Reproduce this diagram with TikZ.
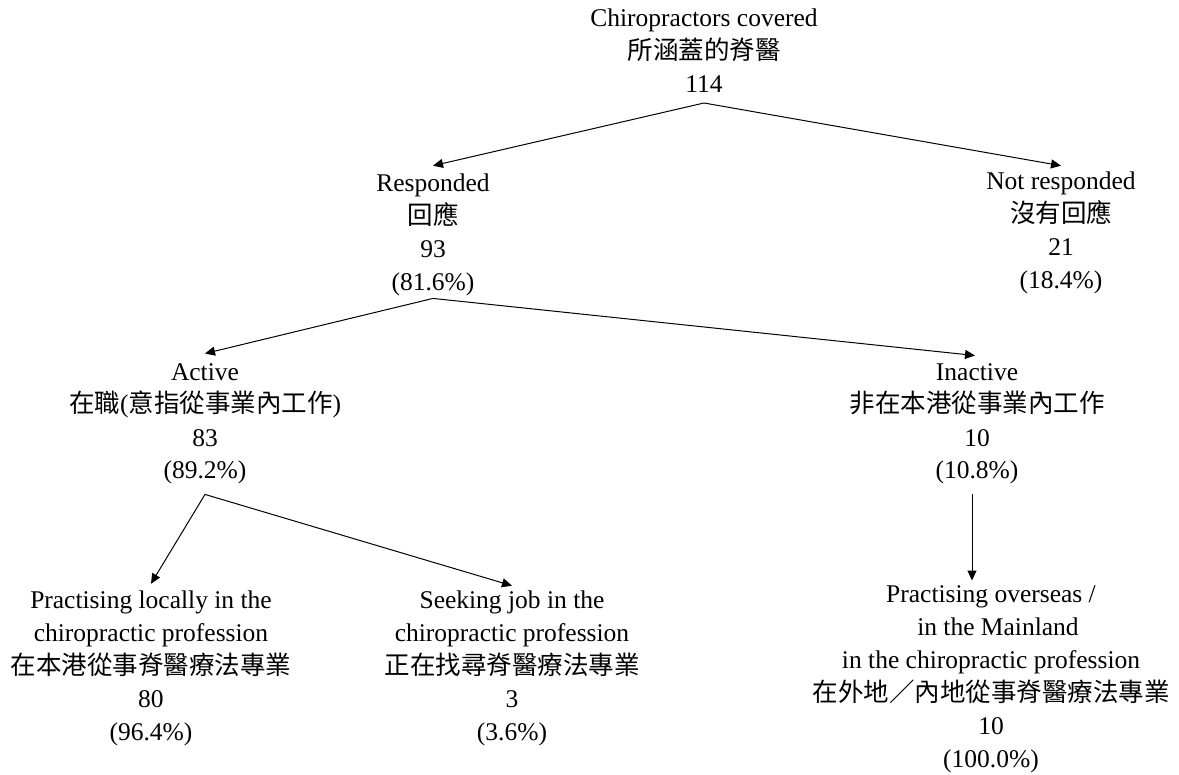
\documentclass[tikz,border=0pt]{standalone}
\usepackage{fontspec}
\setmainfont{Liberation Serif}
\newfontfamily\cjk{Noto Sans CJK TC}
\usetikzlibrary{arrows.meta}
\begin{document}
\begin{tikzpicture}[x=0.5pt,y=-0.5pt,
  lbl/.style={align=center, inner sep=0pt, outer sep=0pt, anchor=base,
    font=\fontsize{12.75}{16.5}\selectfont},
  arr/.style={-{Triangle[length=5pt,width=4.5pt]}, line width=0.5pt}]
\useasboundingbox (0,0) rectangle (1179,775);
% anchor=base is the baseline of the last line
\node[lbl] (top) at (704,93) {Chiropractors covered\\{\cjk 所涵蓋的脊醫}\\114};
\node[lbl] (resp) at (433,291) {Responded\\{\cjk 回應}\\93\\(81.6\%)};
\node[lbl] (nresp) at (1061,289) {Not responded\\{\cjk 沒有回應}\\21\\(18.4\%)};
\node[lbl] (act) at (205,479) {Active\\{\cjk 在職}({\cjk 意指從事業內工作})\\83\\(89.2\%)};
\node[lbl] (inact) at (977,479) {Inactive\\{\cjk 非在本港從事業內工作}\\10\\(10.8\%)};
\node[lbl] (loc) at (151,740) {Practising locally in the\\chiropractic profession\\{\cjk 在本港從事脊醫療法專業}\\80\\(96.4\%)};
\node[lbl] (seek) at (512,740) {Seeking job in the\\chiropractic profession\\{\cjk 正在找尋脊醫療法專業}\\3\\(3.6\%)};
\node[lbl] (over) at (991,767) {Practising overseas /\\\hspace*{7pt}in the Mainland\\in the chiropractic profession\\{\cjk 在外地／內地從事脊醫療法專業}\\10\\(100.0\%)};
\draw[arr] ([yshift=-5pt]top.south) -- ([yshift=4.3pt]resp.north);
\draw[arr] ([yshift=-5pt]top.south) -- ([yshift=3.3pt]nresp.north);
\draw[arr] ([yshift=-1pt]resp.south) -- ([yshift=4.8pt]act.north);
\draw[arr] ([yshift=-1pt]resp.south) -- ([xshift=-1pt,yshift=3.8pt]inact.north);
\draw[arr] ([yshift=-5pt]act.south) -- ([yshift=3.3pt]loc.north);
\draw[arr] ([yshift=-5pt]act.south) -- ([yshift=2.3pt]seek.north);
\draw[arr] ([xshift=-2.5pt,yshift=-5pt]inact.south) -- ([xshift=-9.5pt,yshift=2.3pt]over.north);
\end{tikzpicture}
\end{document}
